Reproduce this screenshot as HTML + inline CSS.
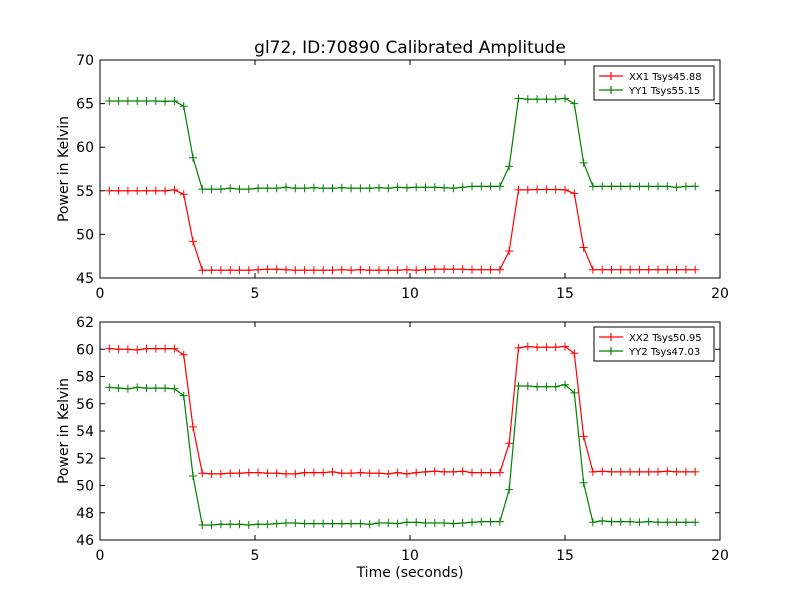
<!DOCTYPE html>
<html><head><meta charset="utf-8"><style>
body{margin:0;background:#fff;}
svg text{font-family:"DejaVu Sans","Liberation Sans",sans-serif;}
</style></head><body>
<svg id="chart" width="800" height="600" xmlns="http://www.w3.org/2000/svg">
<rect width="800" height="600" fill="#fff"/>
<text x="410" y="53" font-size="17" text-anchor="middle">gl72, ID:70890 Calibrated Amplitude</text>
<text x="410" y="577" font-size="14" text-anchor="middle">Time (seconds)</text>
</svg>
<script>
const times = Array.from({length:64},(_, i)=>+(0.3+0.3*i).toFixed(2));
const xx1 = [55.0,55.0,55.0,55.0,55.0,55.0,55.0,55.1,54.6,49.2,45.9,45.9,45.9,45.9,45.9,45.9,45.95,46.0,46.0,45.95,45.9,45.9,45.9,45.9,45.9,45.95,45.9,45.95,45.9,45.9,45.9,45.9,45.95,45.9,45.95,46.0,46.0,46.0,46.0,45.95,45.95,45.95,45.95,48.1,55.1,55.1,55.15,55.15,55.15,55.1,54.7,48.5,45.95,45.95,45.95,45.95,45.95,45.95,45.95,45.95,45.95,45.95,45.95,45.95];
const yy1 = [65.3,65.3,65.3,65.3,65.3,65.3,65.25,65.3,64.7,58.8,55.2,55.2,55.2,55.3,55.2,55.2,55.3,55.3,55.3,55.4,55.3,55.3,55.35,55.3,55.3,55.35,55.3,55.3,55.3,55.35,55.3,55.4,55.35,55.4,55.4,55.4,55.35,55.3,55.4,55.5,55.5,55.5,55.5,57.8,65.6,65.5,65.5,65.5,65.5,65.6,65.0,58.2,55.5,55.5,55.5,55.5,55.5,55.5,55.5,55.5,55.5,55.4,55.5,55.5];
const xx2 = [60.05,60.0,60.0,59.95,60.05,60.05,60.05,60.05,59.6,54.3,50.9,50.85,50.85,50.9,50.9,50.95,50.95,50.9,50.9,50.85,50.85,50.95,50.95,50.95,51.0,50.9,50.9,50.95,50.9,50.9,50.85,50.95,50.85,50.95,51.0,51.05,51.0,51.0,51.05,50.95,50.95,50.95,50.95,53.1,60.1,60.2,60.15,60.15,60.15,60.2,59.7,53.6,51.0,51.05,51.0,51.0,51.0,51.0,51.0,51.0,51.05,51.0,51.0,51.0];
const yy2 = [57.2,57.15,57.1,57.2,57.15,57.15,57.15,57.1,56.6,50.7,47.1,47.1,47.15,47.15,47.15,47.1,47.15,47.15,47.2,47.25,47.25,47.2,47.2,47.2,47.2,47.2,47.2,47.2,47.15,47.25,47.25,47.2,47.3,47.3,47.25,47.25,47.25,47.2,47.25,47.3,47.35,47.35,47.35,49.7,57.3,57.3,57.25,57.25,57.25,57.4,56.8,50.2,47.3,47.4,47.35,47.35,47.35,47.3,47.35,47.3,47.3,47.3,47.3,47.3];
const xTicks = [0,5,10,15,20];
const yTicksTop = [45,50,55,60,65,70];
const yTicksBot = [46,48,50,52,54,56,58,60,62];
const legendTop = ["XX1 Tsys45.88","YY1 Tsys55.15"];
const legendBot = ["XX2 Tsys50.95","YY2 Tsys47.03"];

const svg = document.getElementById('chart');
const NS = 'http://www.w3.org/2000/svg';
function mk(tag, attrs, parent){const e=document.createElementNS(NS,tag);for(const k in attrs)e.setAttribute(k,attrs[k]);(parent||svg).appendChild(e);return e;}

function panel(name, top, bottom, ymin, ymax, yTicks, series, labels, legY){
  const L=100,R=720;
  const xs = v => L + (v-0)/(20-0)*(R-L);
  const ys = v => bottom - (v-ymin)/(ymax-ymin)*(bottom-top);
  const g = mk('g',{});
  
  
  const colors=['#ff0000','#008000'];
  series.forEach((s,si)=>{
    const pts = times.map((t,i)=>xs(t).toFixed(1)+','+ys(s[i]).toFixed(1)).join(' ');
    const pl = mk('polyline',{points:pts,fill:'none',stroke:colors[si],'stroke-width':1.2},g);
    
    
    let d='';
    times.forEach((t,i)=>{const x=xs(t),y=ys(s[i]);d+=`M${(x-4).toFixed(1)},${y.toFixed(1)}h8M${x.toFixed(1)},${(y-4).toFixed(1)}v8`;});
    const mp = mk('path',{d:d,stroke:colors[si],'stroke-width':1,fill:'none'},g);
    
    
  });
  const fr = mk('rect',{x:L,y:top,width:R-L,height:bottom-top,fill:'none',stroke:'#000','stroke-width':1},g);
  
  
  xTicks.forEach(v=>{
    const x=xs(v);
    mk('path',{d:`M${x},${bottom}v-5M${x},${top}v5`,stroke:'#000'},g);
    const t=mk('text',{x:x,y:bottom+20,'font-size':14,'text-anchor':'middle'},g);
    t.textContent=v;
    
    
  });
  yTicks.forEach(v=>{
    const y=ys(v);
    mk('path',{d:`M${L},${y}h5M${R},${y}h-5`,stroke:'#000'},g);
    const t=mk('text',{x:L-6,y:y+5,'font-size':14,'text-anchor':'end'},g);
    t.textContent=v;
    
    
  });
  const yt=mk('text',{x:68,y:(top+bottom)/2,'font-size':14,'text-anchor':'middle',transform:`rotate(-90 68 ${(top+bottom)/2})`},g);
  yt.textContent='Power in Kelvin';
  
  
  const lg = mk('g',{},g);
  
  
  mk('rect',{x:594,y:legY,width:120,height:34,fill:'#fff',stroke:'#000'},lg);
  labels.forEach((lab,i)=>{
    const y=legY+10+i*14;
    mk('path',{d:`M599,${y}h24M611,${y-4}v8`,stroke:colors[i],'stroke-width':1.2},lg);
    const t=mk('text',{x:629,y:y+4,'font-size':10},lg);
    t.textContent=lab;
    
    
  });
}
panel('top-panel',60,278,45,70,yTicksTop,[xx1,yy1],legendTop,66);
panel('bottom-panel',322,540,46,62,yTicksBot,[xx2,yy2],legendBot,327);
</script>
</body></html>
